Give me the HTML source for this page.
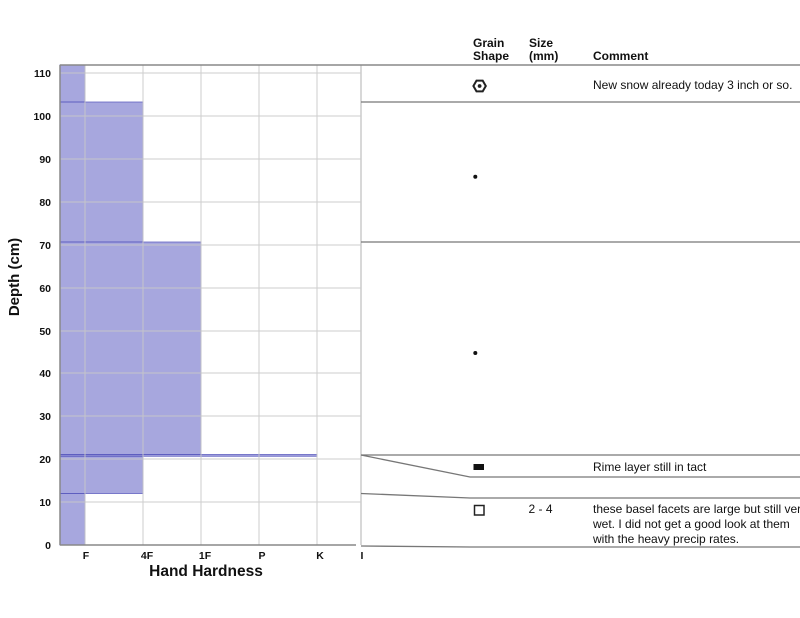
<!DOCTYPE html>
<html><head><meta charset="utf-8"><style>
html,body{margin:0;padding:0;background:#fff;}
svg{display:block;font-family:"Liberation Sans",Arial,sans-serif;}
</style></head><body>
<svg width="800" height="618" viewBox="0 0 800 618" xmlns="http://www.w3.org/2000/svg">
<rect width="800" height="618" fill="#fff"/>
<!-- bars -->
<g fill="rgba(80,80,190,0.5)" stroke="rgba(90,90,190,0.75)" stroke-width="1">
<rect x="60" y="493.5" width="25" height="51.5"/>
<rect x="60" y="456" width="83" height="37.5"/>
<rect x="60" y="454.5" width="257" height="1.8"/>
<rect x="60" y="242" width="141" height="212.5"/>
<rect x="60" y="102" width="83" height="140"/>
<rect x="60" y="65" width="25" height="37"/>
</g>
<!-- grid -->
<g stroke="#c8c8c8" stroke-width="1" opacity="0.9">
<line x1="60" y1="73" x2="361" y2="73"/>
<line x1="60" y1="116" x2="361" y2="116"/>
<line x1="60" y1="159" x2="361" y2="159"/>
<line x1="60" y1="202" x2="361" y2="202"/>
<line x1="60" y1="245" x2="361" y2="245"/>
<line x1="60" y1="288" x2="361" y2="288"/>
<line x1="60" y1="331" x2="361" y2="331"/>
<line x1="60" y1="373" x2="361" y2="373"/>
<line x1="60" y1="416" x2="361" y2="416"/>
<line x1="60" y1="459" x2="361" y2="459"/>
<line x1="60" y1="502" x2="361" y2="502"/>
<line x1="85" y1="65" x2="85" y2="545"/>
<line x1="143" y1="65" x2="143" y2="545"/>
<line x1="201" y1="65" x2="201" y2="545"/>
<line x1="259" y1="65" x2="259" y2="545"/>
<line x1="317" y1="65" x2="317" y2="545"/>
</g>
<line x1="361" y1="65" x2="361" y2="545" stroke="#ccc" stroke-width="1.5"/>
<!-- axes -->
<g stroke="#888" stroke-width="1.5">
<line x1="60" y1="65" x2="800" y2="65"/>
<line x1="60" y1="65" x2="60" y2="545"/>
<line x1="60" y1="545" x2="356" y2="545"/>
</g>
<!-- right panel lines -->
<g stroke="#777" stroke-width="1.3" fill="none">
<line x1="361" y1="102" x2="800" y2="102"/>
<line x1="361" y1="242" x2="800" y2="242"/>
<line x1="361" y1="455" x2="800" y2="455"/>
<polyline points="361,455 470,477 800,477"/>
<polyline points="361,493.5 470,498 800,498"/>
<polyline points="361,546 470,547 800,547"/>
</g>
<!-- y tick labels -->
<g font-size="10.5" font-weight="bold" text-anchor="end" fill="#111">
<text x="51" y="77">110</text>
<text x="51" y="120">100</text>
<text x="51" y="163">90</text>
<text x="51" y="206">80</text>
<text x="51" y="249">70</text>
<text x="51" y="292">60</text>
<text x="51" y="335">50</text>
<text x="51" y="377">40</text>
<text x="51" y="420">30</text>
<text x="51" y="463">20</text>
<text x="51" y="506">10</text>
<text x="51" y="549">0</text>
</g>
<!-- x tick labels -->
<g font-size="10.5" font-weight="bold" text-anchor="middle" fill="#111">
<text x="86" y="559">F</text>
<text x="147" y="559">4F</text>
<text x="205" y="559">1F</text>
<text x="262" y="559">P</text>
<text x="320" y="559">K</text>
<text x="362" y="559">I</text>
</g>
<text x="206" y="576" font-size="15.5" font-weight="bold" text-anchor="middle" fill="#111">Hand Hardness</text>
<text transform="translate(19,277) rotate(-90)" font-size="15" font-weight="bold" text-anchor="middle" fill="#111">Depth (cm)</text>
<!-- headers -->
<g font-size="12" font-weight="bold" fill="#111">
<text x="473" y="47">Grain</text>
<text x="473" y="60">Shape</text>
<text x="529" y="47">Size</text>
<text x="529" y="60">(mm)</text>
<text x="593" y="60">Comment</text>
</g>
<!-- symbols -->
<polygon points="485.8,86 482.7,91.4 476.5,91.4 473.4,86 476.5,80.6 482.7,80.6" fill="none" stroke="#222" stroke-width="2"/>
<circle cx="479.6" cy="86" r="1.9" fill="#222"/>
<circle cx="475.3" cy="176.7" r="2" fill="#111"/>
<circle cx="475.3" cy="353" r="2" fill="#111"/>
<rect x="473.5" y="464" width="10.5" height="6" fill="#111"/>
<rect x="474.5" y="505.5" width="9.5" height="9.5" fill="none" stroke="#222" stroke-width="1.5"/>
<!-- comments -->
<g font-size="12" fill="#111">
<text x="593" y="89">New snow already today 3 inch or so.</text>
<text x="593" y="471">Rime layer still in tact</text>
<text x="528.5" y="513">2 - 4</text>
<text x="593" y="513">these basel facets are large but still very</text>
<text x="593" y="528">wet. I did not get a good look at them</text>
<text x="593" y="543">with the heavy precip rates.</text>
</g>
</svg>
</body></html>
